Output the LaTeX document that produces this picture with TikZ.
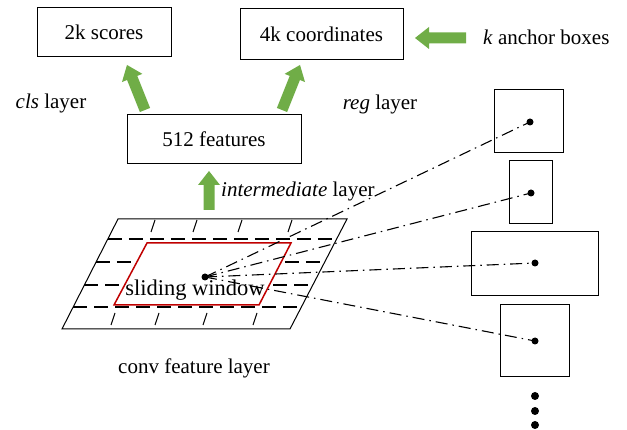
\documentclass[tikz,border=0pt]{standalone}
\usepackage{fontspec}
\setmainfont{Liberation Serif}
\usetikzlibrary{calc}
\definecolor{agreen}{HTML}{70AD47}
\definecolor{wred}{HTML}{C00000}
\tikzset{
  box/.style n args={2}{draw, line width=1pt, minimum width=#1, minimum height=#2, inner sep=0pt, font=\fontsize{21}{23}\selectfont},
  lbl/.style={inner sep=0pt, font=\fontsize{21}{23}\selectfont},
  abox/.style n args={2}{draw, line width=1pt, minimum width=#1, minimum height=#2, inner sep=0pt},
  dotc/.style={fill, circle, inner sep=0pt, minimum size=7pt},
  gridline/.style={line width=1pt},
  griddash/.style={line width=2pt, dash pattern=on 14pt off 7pt},
  ray/.style={line width=1.1pt, dash pattern=on 12pt off 5pt on 1.5pt off 5pt},
  pics/blockarrow/.style={code={
    \fill[agreen] (0,-5.5) -- (#1-14,-5.5) -- (#1-14,-11) -- (#1,0) -- (#1-14,11) -- (#1-14,5.5) -- (0,5.5) -- cycle;}}
}
\begin{document}
\begin{tikzpicture}[x=1pt,y=-1pt]
\useasboundingbox (0,0) rectangle (627,430);
% top boxes
\node[box={134pt}{49pt}] (scores) at (104,32.5) {2k scores};
\node[box={163pt}{51pt}] (coords) at (321.5,34.5) {4k coordinates};
\node[box={174pt}{49pt}] (feat) at (214,139.5) {512 features};
% labels
\node[lbl] (cls) at (51,103) {\textit{cls} layer};
\node[lbl] (reg) at (380,104) {\textit{reg} layer};
\node[lbl, anchor=west] (inter) at (221,191) {\textit{intermediate} layer};
\node[lbl, anchor=west] (kanch) at (483,37) {\textit{k} anchor boxes};
\node[lbl] (conv) at (194,368) {conv feature layer};
% green arrows
\coordinate (a1) at (145,110);
\coordinate (a2) at (282,110);
\coordinate (a3) at (209,210);
\coordinate (a4) at (466,38);
\pic[rotate=111.8] at (a1) {blockarrow=48.5};
\pic[rotate=68.2] at (a2) {blockarrow=48.5};
\pic[rotate=90] at (a3) {blockarrow=39};
\pic[rotate=180] at (a4) {blockarrow=51};
% feature map
\coordinate (TL) at (118,219);
\coordinate (TR) at (347,219);
\coordinate (BR) at (290,329);
\coordinate (BL) at (62,329);
\draw[gridline] (TL) -- (TR) -- (BR) -- (BL) -- cycle;
\foreach \y in {239,262.5,285.5,307} {
  \pgfmathsetmacro{\xl}{118-56*(\y-219)/110}
  \pgfmathsetmacro{\xr}{347-56*(\y-219)/110}
  \draw[griddash] (\xl,\y) -- (\xr,\y);
}
\foreach \x in {155,197,242,292} \draw[gridline] (\x,220) -- (\x-4,232);
\foreach \x in {115,159,207,257} \draw[gridline] (\x,313) -- (\x-4,325);
% sliding window
\draw[wred, line width=1.5pt, fill=white] (147,243) -- (291,243) -- (259,305) -- (114,305) -- cycle;
\node[lbl, font=\fontsize{22.5}{24}\selectfont] (sw) at (195,290) {sliding window};
\node[dotc] (c) at (205,277) {};
% anchor boxes
\node[abox={69pt}{63pt}] (b1) at (528.5,121.5) {};
\node[abox={43pt}{63pt}] (b2) at (530.5,192.5) {};
\node[abox={127pt}{64pt}] (b3) at (534.5,264) {};
\node[abox={69pt}{72pt}] (b4) at (534.5,341) {};
\node[dotc] (d1) at (530,122) {};
\node[dotc] (d2) at (531,193) {};
\node[dotc] (d3) at (535,263) {};
\node[dotc] (d4) at (535,341) {};
\node[dotc, minimum size=8pt] (e1) at (535,396) {};
\node[dotc, minimum size=8pt] (e2) at (535,411) {};
\node[dotc, minimum size=8pt] (e3) at (535,425) {};
\foreach \d in {d1,d2,d3,d4} \draw[ray] (c.center) -- (\d.center);
\end{tikzpicture}
\end{document}
